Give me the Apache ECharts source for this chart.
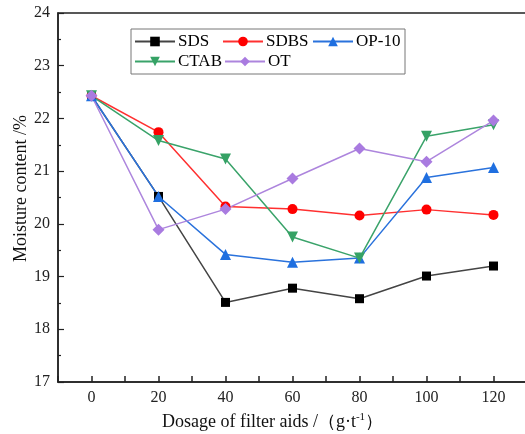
<!DOCTYPE html>
<html><head><meta charset="utf-8">
<script src="https://cdn.jsdelivr.net/npm/echarts@6/dist/echarts.min.js"></script>
<style>html,body{margin:0;padding:0;background:#fff}#c{width:525px;height:434px}</style>
</head><body><div id="c"></div>
<script>
const xValues = [0, 20, 40, 60, 80, 100, 120];
const sds  = [22.43, 20.52, 18.51, 18.78, 18.58, 19.01, 19.20];
const sdbs = [22.43, 21.74, 20.33, 20.28, 20.16, 20.27, 20.17];
const op10 = [22.43, 20.52, 19.42, 19.27, 19.35, 20.88, 21.07];
const ctab = [22.43, 21.58, 21.23, 19.75, 19.35, 21.66, 21.88];
const ot   = [22.43, 19.89, 20.28, 20.86, 21.43, 21.18, 21.96];
const seriesNames = ['SDS', 'SDBS', 'OP-10', 'CTAB', 'OT'];
const xLabelStep = 20;

const FONT = '"Liberation Serif", "Times New Roman", serif';
const AX = '#222';
const pair = arr => xValues.map((x, i) => [x, arr[i]]);

const chart = echarts.init(document.getElementById('c'), null, {renderer: 'canvas'});

function mk(name, data, color, lineColor, symbol, size, rot) {
  return {
    name, type: 'line', data: pair(data), xAxisIndex: 0, yAxisIndex: 0,
    symbol, symbolSize: size, symbolRotate: rot || 0,
    lineStyle: {color: lineColor, width: 1.5},
    itemStyle: {color: color, borderWidth: 0},
    emphasis: {disabled: true}, animation: false
  };
}

const legendPos = [[134, 33], [222, 33], [312, 33], [134, 53], [224, 53]];
const legends = seriesNames.map((n, i) => ({
  data: [n], left: legendPos[i][0], top: legendPos[i][1],
  itemWidth: 40, itemHeight: 12, padding: 0, selectedMode: false,
  textStyle: {fontFamily: FONT, fontSize: 17, color: '#000', padding: [0, 0, 0, -2]}
}));

chart.setOption({
  animation: false,
  backgroundColor: '#fff',
  grid: {left: 58, right: -2, top: 13, bottom: 52, show: true, borderColor: AX, borderWidth: 1.5,
         backgroundColor: 'transparent', outerBoundsMode: 'none', containLabel: false},
  legend: legends,
  graphic: [{type: 'rect', shape: {x: 131, y: 29, width: 274, height: 45}, style: {fill: 'none', stroke: '#777', lineWidth: 1}, z: 100}],
  xAxis: {
    type: 'value', min: -10, max: 130, interval: 10,
    axisLine: {show: true, onZero: false, lineStyle: {color: AX, width: 1.5}},
    axisTick: {show: true, inside: true, length: 6, lineStyle: {color: AX, width: 1.5}},
    axisLabel: {fontFamily: FONT, fontSize: 16, color: '#222', margin: 8,
      formatter: v => (v >= 0 && v <= 120 && v % xLabelStep === 0) ? String(v) : ''},
    splitLine: {show: false},
    name: '{a|Dosage of filter aids /（g·t}{s|-1}{a|）}',
    nameLocation: 'middle', nameGap: 30, nameMoveOverlap: false,
    nameTextStyle: {padding: [0, 40, 0, 0], rich: {
      a: {fontFamily: FONT, fontSize: 18, color: '#111'},
      s: {fontFamily: FONT, fontSize: 11, color: '#111', padding: [0, 0, 9, 0]}
    }}
  },
  yAxis: {
    type: 'value', min: 17, max: 24, interval: 1,
    axisLine: {show: true, onZero: false, lineStyle: {color: AX, width: 1.5}},
    axisTick: {show: true, inside: true, length: 6, lineStyle: {color: AX, width: 1.2}},
    minorTick: {show: true, splitNumber: 2, length: 3, lineStyle: {color: AX, width: 1.2}},
    axisLabel: {fontFamily: FONT, fontSize: 16, color: '#222', margin: 8},
    splitLine: {show: false},
    name: 'Moisture content /%', nameLocation: 'middle', nameGap: 28, nameMoveOverlap: false,
    nameTextStyle: {fontFamily: FONT, fontSize: 18, color: '#111', padding: [0, 0, 0, 18]}
  },
  series: [
    mk('SDS', sds, '#000', '#444', 'rect', 9),
    mk('SDBS', sdbs, '#ff0000', '#ff3030', 'circle', 10),
    mk('OP-10', op10, '#1f6fe0', '#2a72dc', 'triangle', 11),
    mk('CTAB', ctab, '#35a265', '#3aa36a', 'triangle', 11, 180),
    mk('OT', ot, '#a97be0', '#ad85dd', 'diamond', 12)
  ]
});
</script></body></html>
